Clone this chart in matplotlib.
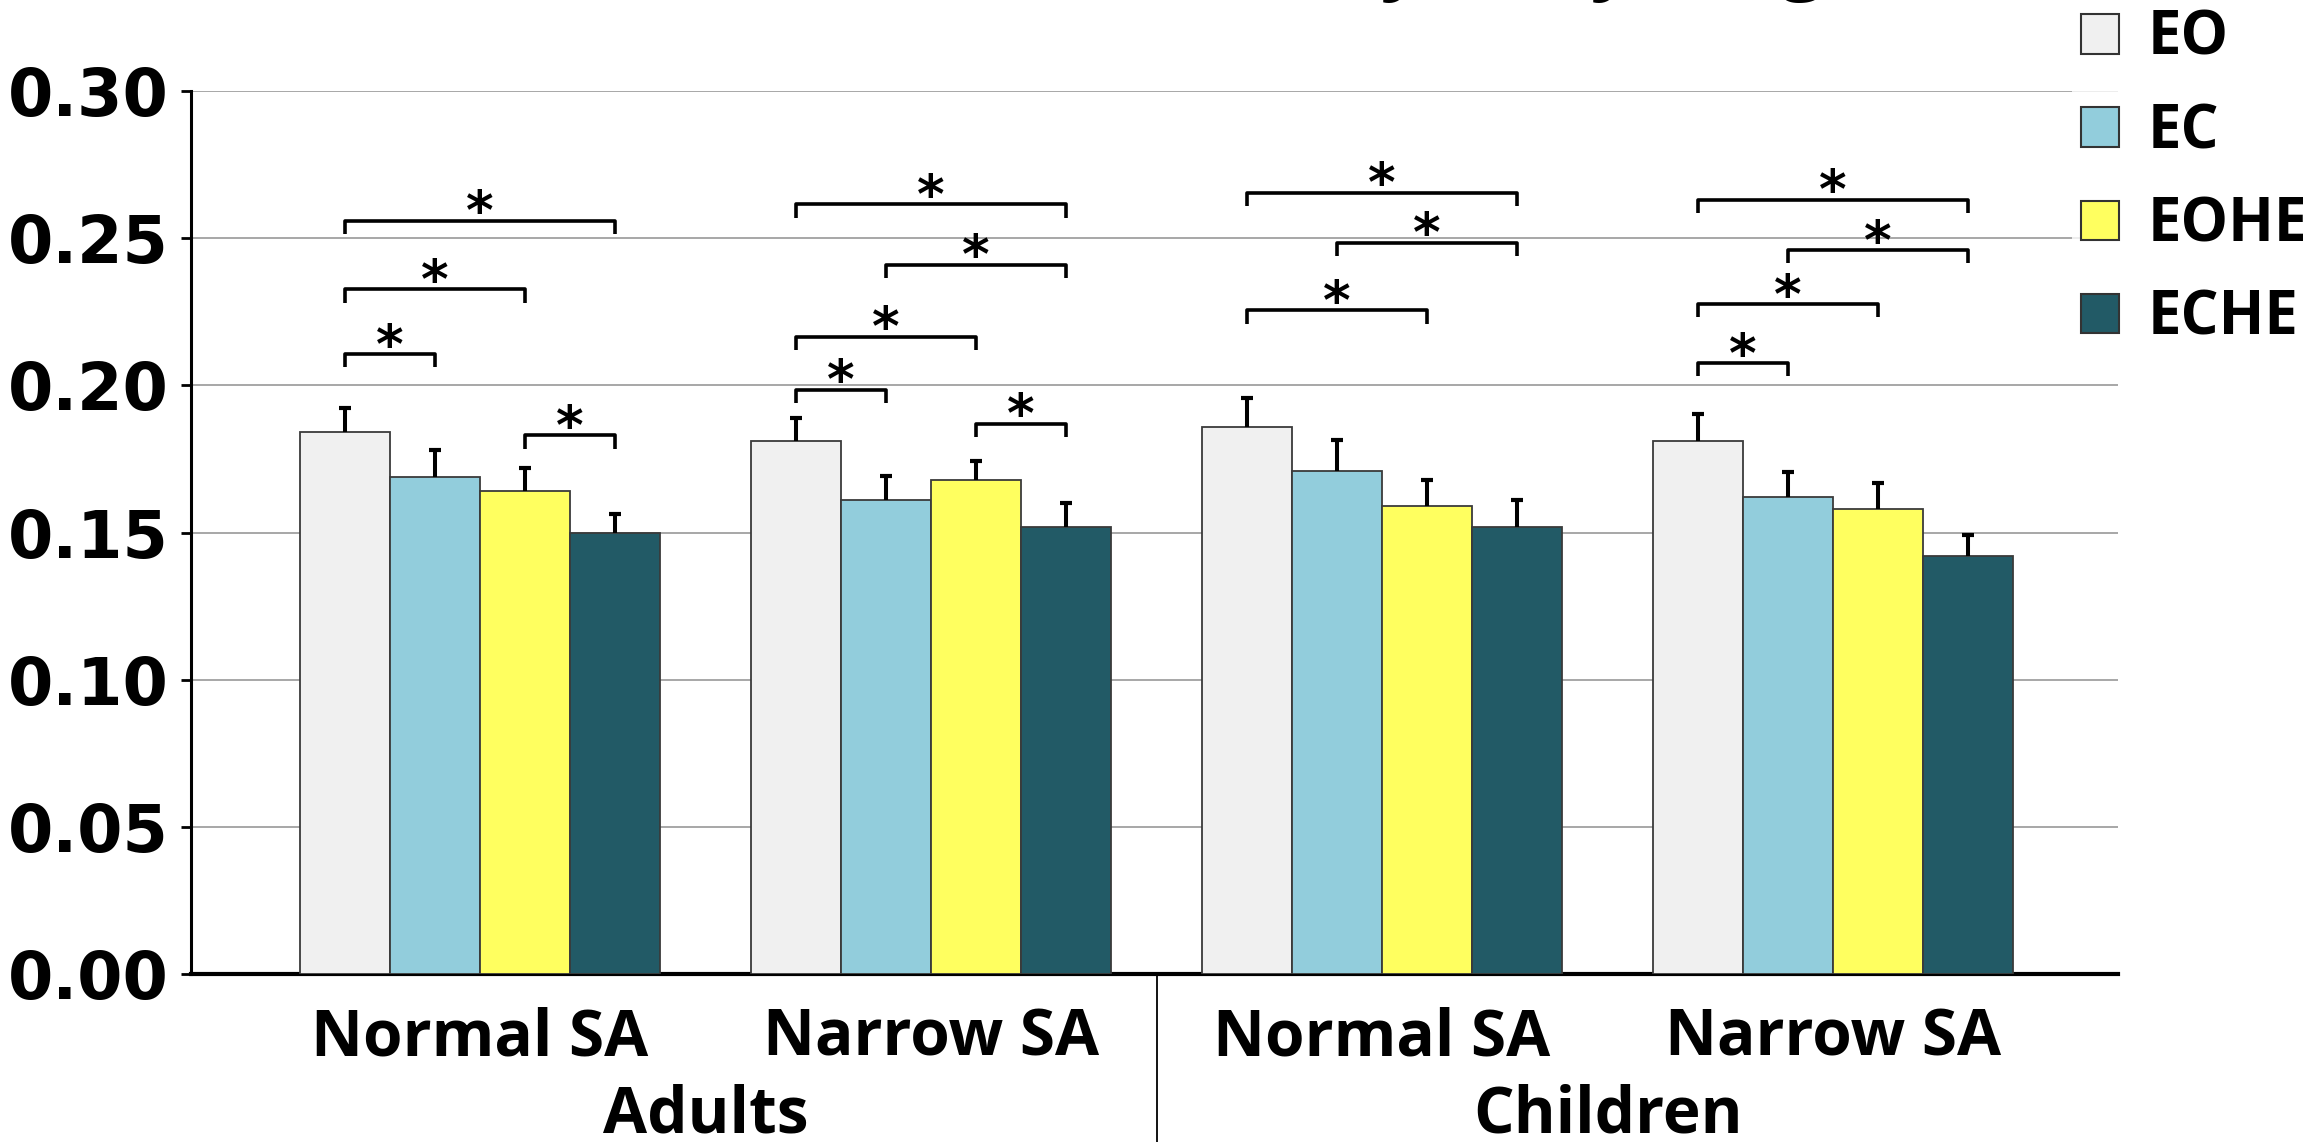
import matplotlib.pyplot as plt
import matplotlib.transforms as mtransforms
import numpy as np
from matplotlib.patches import Patch

# data
sa_labels = ['Normal SA', 'Narrow SA', 'Normal SA', 'Narrow SA']
populations = ['Adults', 'Children']
conditions = ['EO', 'EC', 'EOHE', 'ECHE']

eo = [0.184, 0.181, 0.186, 0.181]
ec = [0.169, 0.161, 0.171, 0.162]
eohe = [0.164, 0.168, 0.159, 0.158]
eche = [0.150, 0.152, 0.152, 0.142]

eo_err = [0.0083, 0.0080, 0.0096, 0.0094]
ec_err = [0.0090, 0.0083, 0.0103, 0.0087]
eohe_err = [0.0080, 0.0063, 0.0087, 0.0087]
eche_err = [0.0063, 0.0080, 0.0090, 0.0073]

# significance brackets: (group, first bar, second bar, height)
sig_pairs = [
    (0, 0, 1, 0.2106), (0, 0, 2, 0.2326), (0, 0, 3, 0.256), (0, 2, 3, 0.183),
    (1, 0, 1, 0.1986), (1, 0, 2, 0.2166), (1, 1, 3, 0.241), (1, 0, 3, 0.2615), (1, 2, 3, 0.187),
    (2, 0, 2, 0.2255), (2, 1, 3, 0.2485), (2, 0, 3, 0.2655),
    (3, 0, 1, 0.2076), (3, 0, 2, 0.2276), (3, 1, 3, 0.246), (3, 0, 3, 0.263),
]

colors = ['#f0f0f0', '#92cddc', '#ffff5f', '#225a66']
series = [eo, ec, eohe, eche]
errors = [eo_err, ec_err, eohe_err, eche_err]

fig = plt.figure(figsize=(23.03, 11.42), dpi=100)
ax = fig.add_axes([0.0829, 0.147, 0.8368, 0.7733])

x = np.arange(len(sa_labels))
w = 0.2
offs = (np.arange(4) - 1.5) * w

for k in range(4):
    ax.bar(x + offs[k], series[k], w, color=colors[k], edgecolor='#3a3a3a',
           linewidth=1.3, zorder=3, label=conditions[k])
    eb = ax.errorbar(x + offs[k], series[k], yerr=[np.zeros(4), errors[k]], fmt='none',
                     ecolor='black', elinewidth=2.9, capsize=4.5, capthick=3, zorder=4)
    eb[1][0].set_visible(False)  # no cap at the bar top

# brackets + asterisks
tick = 0.0045
for g, i, j, y in sig_pairs:
    x1 = x[g] + offs[i]
    x2 = x[g] + offs[j]
    ax.plot([x1, x1, x2, x2], [y - tick, y, y, y - tick], color='black', lw=2.6,
            solid_capstyle='butt', zorder=5, clip_on=False)
    ax.text((x1 + x2) / 2, y + 0.0022, '*', ha='center', va='center', fontsize=38,
            fontweight='bold', family='DejaVu Sans', zorder=6)

ax.set_xlim(-0.641, 3.632)
ax.set_ylim(0, 0.30)
ax.set_yticks(np.arange(0, 0.301, 0.05))
ax.set_yticklabels(['%.2f' % v for v in np.arange(0, 0.301, 0.05)])
ax.yaxis.grid(True, color='#a0a0a0', lw=1.3)
ax.set_axisbelow(True)

for s in ['top', 'right']:
    ax.spines[s].set_visible(False)
ax.spines['left'].set_linewidth(2.2)
ax.spines['bottom'].set_linewidth(3)

ax.tick_params(axis='y', length=7, width=2, pad=9, labelsize=47)
for t in ax.get_yticklabels():
    t.set_fontweight('bold')
    t.set_family('DejaVu Sans')

ax.set_xticks(x)
ax.set_xticklabels(sa_labels, fontsize=46, fontweight='bold', family='Open Sans')
ax.tick_params(axis='x', length=0, pad=23)

# population labels and divider
trans = mtransforms.blended_transform_factory(ax.transData, ax.transAxes)
ax.text(0.5, -0.124, populations[0], transform=trans, ha='center', va='top',
        fontsize=46, fontweight='bold', family='Open Sans')
ax.text(2.5, -0.124, populations[1], transform=trans, ha='center', va='top',
        fontsize=46, fontweight='bold', family='Open Sans')
ax.plot([1.5, 1.5], [0, -0.3], transform=trans, color='black', lw=1.3, clip_on=False)

# legend
handles = [Patch(facecolor=c, edgecolor='#333333', linewidth=1.5) for c in colors]
fig.legend(handles, conditions, loc='upper left', bbox_to_anchor=(2072 / 2303, 1.0),
           frameon=True, facecolor='white', edgecolor='none', fancybox=False,
           borderpad=0.15, borderaxespad=0, handlelength=0.64, handleheight=0.64,
           handletextpad=0.47, labelspacing=0.54,
           prop=dict(family='Open Sans', weight='bold', size=43))

# title (mostly cut off at the top in the reference)
fig.text(0.474, 1 + 15 / 1142, 'Total Excursion Normalized by Body Height',
         ha='center', va='baseline', fontsize=55, fontweight='bold', family='Open Sans')

fig.savefig('out.png', dpi=100)
